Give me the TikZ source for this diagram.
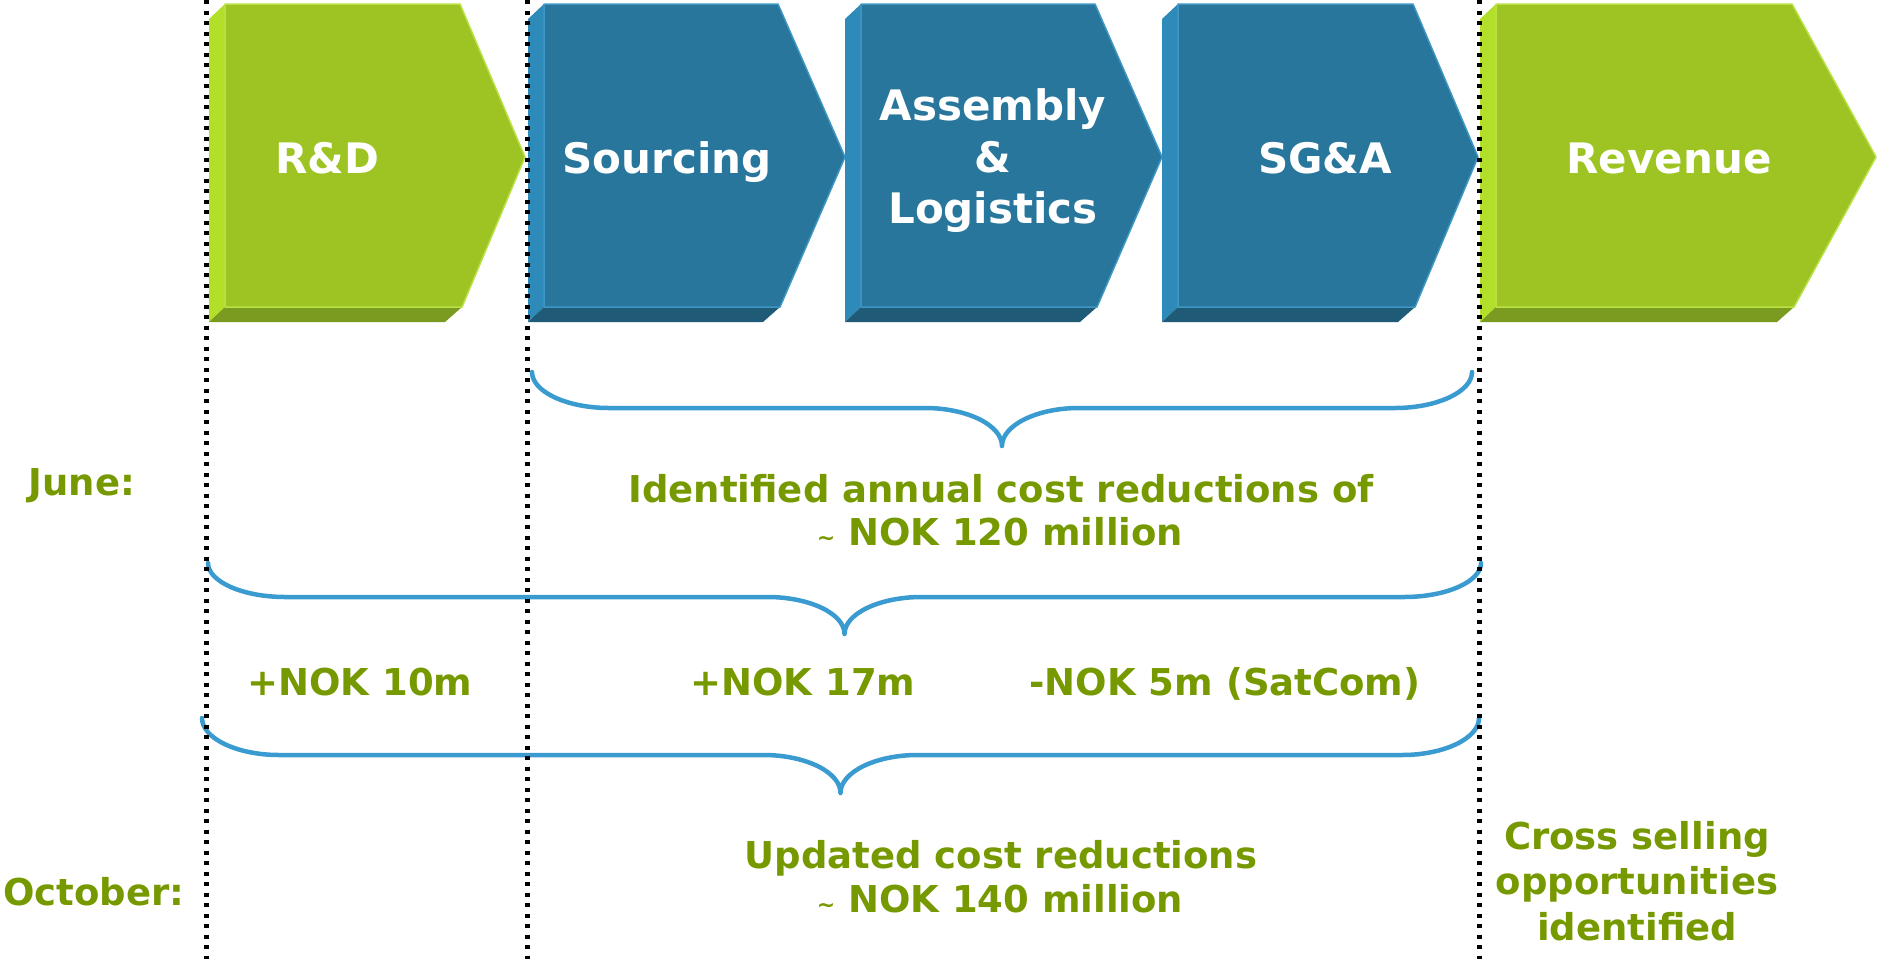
\documentclass[tikz,border=0pt]{standalone}
\usepackage{fontspec}
\setmainfont{DejaVu Sans}
\definecolor{gfront}{RGB}{158,196,36}
\definecolor{gside}{RGB}{178,224,42}
\definecolor{gbottom}{RGB}{122,154,32}
\definecolor{gedge}{RGB}{185,225,70}
\definecolor{bfront}{RGB}{40,118,156}
\definecolor{bside}{RGB}{46,138,184}
\definecolor{bbottom}{RGB}{31,90,118}
\definecolor{bedge}{RGB}{62,150,195}
\definecolor{tgreen}{RGB}{118,153,0}
\definecolor{bracecol}{RGB}{58,155,208}
\newcommand\drawchev[7]{%
  \fill[#5] (#1,19) -- (#1+16,4) -- (#1+16,307) -- (#1,322) -- cycle;
  \fill[#6] (#1,322) -- (#1+16,307) -- (#2+2,307) -- (#2-15,322) -- cycle;
  \filldraw[fill=#4, draw=#7, line width=1.5pt, line join=round] (#1+16,4) -- (#2,4) -- (#3,157) -- (#2+2,307) -- (#1+16,307) -- cycle;
}
\newcommand\drawbrace[5]{%
  \draw[bracebrush] (#1,#3) .. controls (#1,#3+0.55*#4-0.55*#3) and (#1+35,#4) .. (#1+77,#4)
    -- ({(#1+#2)/2-77},#4) .. controls ({(#1+#2)/2-35},#4) and ({(#1+#2)/2},#5-0.55*#5+0.55*#4) .. ({(#1+#2)/2},#5)
    .. controls ({(#1+#2)/2},#5-0.55*#5+0.55*#4) and ({(#1+#2)/2+35},#4) .. ({(#1+#2)/2+77},#4)
    -- (#2-77,#4) .. controls (#2-35,#4) and (#2,#3+0.55*#4-0.55*#3) .. (#2,#3);
}
\tikzset{
  chevtext/.style={text=white, font=\fontsize{42}{52}\selectfont\bfseries, anchor=base, inner sep=0pt},
  gtext/.style={text=tgreen, font=\fontsize{37}{43}\selectfont\bfseries, anchor=base, inner sep=0pt},
  bracebrush/.style={draw=bracecol, line width=4.5pt, line cap=round, line join=round},
  dotline/.style={draw=black, line width=5pt, dash pattern=on 4pt off 6.5pt}
}
\begin{document}
\begin{tikzpicture}[x=1pt, y=-1pt]
\useasboundingbox (0,0) rectangle (1877,959);
% chevrons
\drawchev{209}{460}{525}{gfront}{gside}{gbottom}{gedge}
\drawchev{528}{778}{845}{bfront}{bside}{bbottom}{bedge}
\drawchev{845}{1095}{1162}{bfront}{bside}{bbottom}{bedge}
\drawchev{1162}{1413}{1478}{bfront}{bside}{bbottom}{bedge}
\drawchev{1480}{1792}{1876}{gfront}{gside}{gbottom}{gedge}
% chevron labels
\node[chevtext] (rd) at (327,173) {R\&D};
\node[chevtext] (src) at (667,173) {Sourcing};
\node[chevtext] (asm1) at (993,120) {Assembly};
\node[chevtext] (asm2) at (993,172) {\&};
\node[chevtext] (asm3) at (993,223) {Logistics};
\node[chevtext] (sga) at (1325,173) {SG\&A};
\node[chevtext] (rev) at (1669,173) {Revenue};
% braces
\drawbrace{532}{1472}{372}{408}{446}
\drawbrace{208}{1481}{563}{597}{634}
\drawbrace{202}{1479}{718}{755}{793}
% green texts
\node[gtext] (june) at (82,495) {June:};
\node[gtext] (october) at (94,905) {October:};
\node[gtext] (ident1) at (1001,502) {Identified annual cost reductions of};
\node[gtext] (ident2) at (1000,545) {{\fontsize{22}{22}\selectfont\textasciitilde}\ NOK 120 million};
\node[gtext] (nok10) at (360,695) {+NOK 10m};
\node[gtext] (nok17) at (803,695) {+NOK 17m};
\node[gtext] (nok5) at (1225,695) {-NOK 5m (SatCom)};
\node[gtext] (upd1) at (1001,868) {Updated cost reductions};
\node[gtext] (upd2) at (1000,912) {{\fontsize{22}{22}\selectfont\textasciitilde}\ NOK 140 million};
\node[gtext] (cross1) at (1637,849) {Cross selling};
\node[gtext] (cross2) at (1637,894) {opportunities};
\node[gtext] (cross3) at (1637,940) {identified};
% dotted separators
\coordinate (d1t) at (206,0); \coordinate (d1b) at (206,959);
\coordinate (d2t) at (527,0); \coordinate (d2b) at (527,959);
\coordinate (d3t) at (1479,0); \coordinate (d3b) at (1479,959);
\draw[dotline] (d1t) -- (d1b);
\draw[dotline] (d2t) -- (d2b);
\draw[dotline] (d3t) -- (d3b);
\end{tikzpicture}
\end{document}
